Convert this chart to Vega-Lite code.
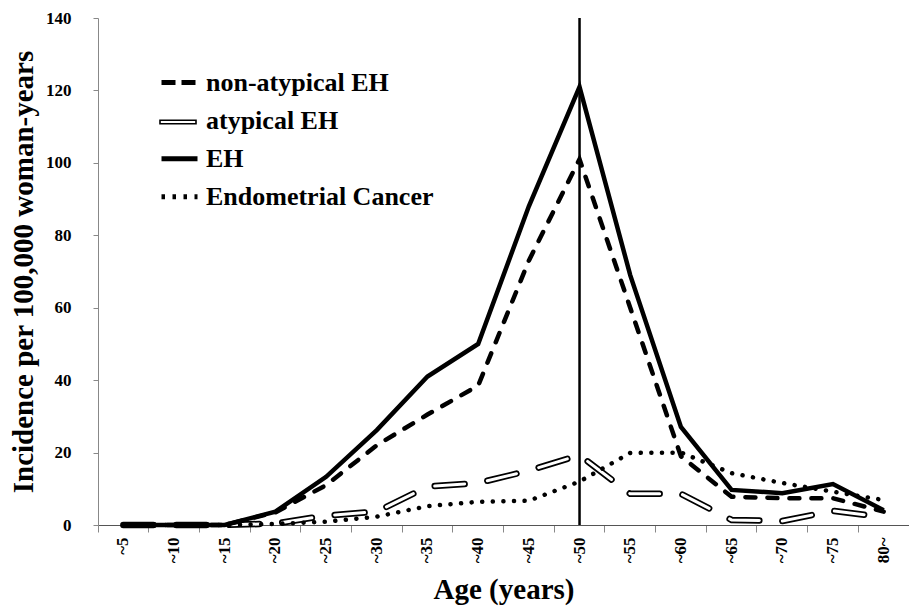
{
  "$schema": "https://vega.github.io/schema/vega-lite/v6.json",
  "autosize": "none",
  "width": 811,
  "height": 507,
  "padding": {"left": 98, "top": 18, "right": 0, "bottom": 81},
  "background": "white",
  "config": {
    "view": {"stroke": null},
    "font": "Liberation Serif",
    "axis": {
      "labelFont": "Liberation Serif", "labelFontWeight": "bold", "labelColor": "black",
      "titleFont": "Liberation Serif", "titleFontWeight": "bold", "titleColor": "black",
      "domainColor": "#888888", "tickColor": "#888888", "grid": false
    }
  },
  "data": {"values": [
    {"age": "~5", "series": "non-atypical EH", "value": 0},
    {"age": "~10", "series": "non-atypical EH", "value": 0},
    {"age": "~15", "series": "non-atypical EH", "value": 0},
    {"age": "~20", "series": "non-atypical EH", "value": 3.5},
    {"age": "~25", "series": "non-atypical EH", "value": 11},
    {"age": "~30", "series": "non-atypical EH", "value": 22},
    {"age": "~35", "series": "non-atypical EH", "value": 30.5},
    {"age": "~40", "series": "non-atypical EH", "value": 38.5},
    {"age": "~45", "series": "non-atypical EH", "value": 73},
    {"age": "~50", "series": "non-atypical EH", "value": 101},
    {"age": "~55", "series": "non-atypical EH", "value": 60},
    {"age": "~60", "series": "non-atypical EH", "value": 19},
    {"age": "~65", "series": "non-atypical EH", "value": 7.8},
    {"age": "~70", "series": "non-atypical EH", "value": 7.4},
    {"age": "~75", "series": "non-atypical EH", "value": 7.4},
    {"age": "80~", "series": "non-atypical EH", "value": 3.7},
    {"age": "~5", "series": "atypical EH", "value": 0},
    {"age": "~10", "series": "atypical EH", "value": 0},
    {"age": "~15", "series": "atypical EH", "value": 0},
    {"age": "~20", "series": "atypical EH", "value": 0.4},
    {"age": "~25", "series": "atypical EH", "value": 2.6},
    {"age": "~30", "series": "atypical EH", "value": 3.7},
    {"age": "~35", "series": "atypical EH", "value": 10.6},
    {"age": "~40", "series": "atypical EH", "value": 11.6},
    {"age": "~45", "series": "atypical EH", "value": 15},
    {"age": "~50", "series": "atypical EH", "value": 19.3},
    {"age": "~55", "series": "atypical EH", "value": 8.6},
    {"age": "~60", "series": "atypical EH", "value": 8.6},
    {"age": "~65", "series": "atypical EH", "value": 1.4},
    {"age": "~70", "series": "atypical EH", "value": 1.1},
    {"age": "~75", "series": "atypical EH", "value": 3.9},
    {"age": "80~", "series": "atypical EH", "value": 2.2},
    {"age": "~5", "series": "EH", "value": 0},
    {"age": "~10", "series": "EH", "value": 0},
    {"age": "~15", "series": "EH", "value": 0},
    {"age": "~20", "series": "EH", "value": 3.7},
    {"age": "~25", "series": "EH", "value": 13.3},
    {"age": "~30", "series": "EH", "value": 26.2},
    {"age": "~35", "series": "EH", "value": 41},
    {"age": "~40", "series": "EH", "value": 50},
    {"age": "~45", "series": "EH", "value": 88},
    {"age": "~50", "series": "EH", "value": 121},
    {"age": "~55", "series": "EH", "value": 69},
    {"age": "~60", "series": "EH", "value": 27.1},
    {"age": "~65", "series": "EH", "value": 9.7},
    {"age": "~70", "series": "EH", "value": 8.8},
    {"age": "~75", "series": "EH", "value": 11.3},
    {"age": "80~", "series": "EH", "value": 4.1},
    {"age": "~5", "series": "Endometrial Cancer", "value": 0},
    {"age": "~10", "series": "Endometrial Cancer", "value": 0},
    {"age": "~15", "series": "Endometrial Cancer", "value": 0},
    {"age": "~20", "series": "Endometrial Cancer", "value": 0.3},
    {"age": "~25", "series": "Endometrial Cancer", "value": 0.9},
    {"age": "~30", "series": "Endometrial Cancer", "value": 2.3},
    {"age": "~35", "series": "Endometrial Cancer", "value": 5.2},
    {"age": "~40", "series": "Endometrial Cancer", "value": 6.4},
    {"age": "~45", "series": "Endometrial Cancer", "value": 6.7},
    {"age": "~50", "series": "Endometrial Cancer", "value": 12},
    {"age": "~55", "series": "Endometrial Cancer", "value": 19.9},
    {"age": "~60", "series": "Endometrial Cancer", "value": 20},
    {"age": "~65", "series": "Endometrial Cancer", "value": 14.3},
    {"age": "~70", "series": "Endometrial Cancer", "value": 11.6},
    {"age": "~75", "series": "Endometrial Cancer", "value": 9.2},
    {"age": "80~", "series": "Endometrial Cancer", "value": 6.9}
  ]},
  "encoding": {
    "x": {
      "field": "age", "type": "ordinal", "sort": null,
      "scale": {"type": "band", "paddingInner": 0, "paddingOuter": 0},
      "axis": {
        "title": "Age (years)", "titleFontSize": 29, "titlePadding": 13,
        "labelAngle": 270, "labelFontSize": 17, "labelPadding": 5,
        "tickSize": 7, "bandPosition": 0, "domainColor": "#555555"
      }
    },
    "y": {
      "field": "value", "type": "quantitative",
      "scale": {"domain": [0, 140], "nice": false},
      "axis": {
        "title": "Incidence per 100,000 woman-years", "titleFontSize": 29, "titlePadding": 7,
        "values": [0, 20, 40, 60, 80, 100, 120, 140],
        "labelFontSize": 17, "labelPadding": 22, "tickSize": 5
      }
    }
  },
  "layer": [
    {
      "transform": [{"filter": "datum.series === 'atypical EH'"}],
      "mark": {"type": "line", "opacity": 0},
      "encoding": {
        "color": {
          "field": "series", "type": "nominal",
          "scale": {"domain": ["atypical EH"], "range": ["black"]},
          "legend": {
            "title": null, "orient": "none", "legendX": 61, "legendY": 85,
            "padding": 0, "symbolSize": 1296, "symbolType": "M-1,-0.1H1V0.1H-1Z",
            "symbolStrokeWidth": 1.6, "symbolFillColor": "white", "symbolOpacity": 1,
            "labelExpr": "''", "labelFontSize": 1, "labelOffset": 0
          }
        }
      }
    },
    {
      "mark": {"type": "line", "color": "black", "opacity": 0},
      "encoding": {
        "strokeDash": {
          "field": "series", "type": "nominal",
          "scale": {
            "domain": ["non-atypical EH", "atypical EH", "EH", "Endometrial Cancer"],
            "range": [[14, 6], [0, 100], [1, 0], [3.5, 7.5]]
          },
          "legend": {
            "title": null, "orient": "none", "legendX": 61, "legendY": 44,
            "padding": 0, "symbolSize": 1296, "symbolType": "stroke", "symbolOpacity": 1,
            "symbolStrokeColor": "black", "symbolStrokeWidth": 5,
            "labelFont": "Liberation Serif", "labelFontWeight": "bold", "labelFontSize": 26,
            "labelColor": "black", "labelOffset": 6, "rowPadding": 4.1, "labelLimit": 400
          }
        }
      }
    },
    {
      "transform": [{"filter": "datum.series === 'atypical EH'"}],
      "mark": {"type": "line", "color": "black", "strokeCap": "round", "strokeWidth": 6.5, "strokeDash": [30, 23]}
    },
    {
      "transform": [{"filter": "datum.series === 'atypical EH'"}],
      "mark": {"type": "line", "color": "white", "strokeWidth": 3, "strokeCap": "round", "strokeDash": [30, 23]}
    },
    {
      "transform": [{"filter": "datum.series === 'non-atypical EH'"}],
      "mark": {"type": "line", "color": "black", "strokeCap": "round", "strokeWidth": 4.5, "strokeDash": [10, 12]}
    },
    {
      "transform": [{"filter": "datum.series === 'Endometrial Cancer'"}],
      "mark": {"type": "line", "color": "black", "strokeCap": "round", "strokeWidth": 4.5, "strokeDash": [0.1, 10.5]}
    },
    {
      "transform": [{"filter": "datum.series === 'EH'"}],
      "mark": {"type": "line", "color": "black", "strokeWidth": 4.5}
    },
    {
      "transform": [{"filter": "datum.series === 'EH' && datum.age === '~50'"}],
      "mark": {"type": "rule", "color": "black", "strokeWidth": 2.5},
      "encoding": {"y": null}
    }
  ]
}
